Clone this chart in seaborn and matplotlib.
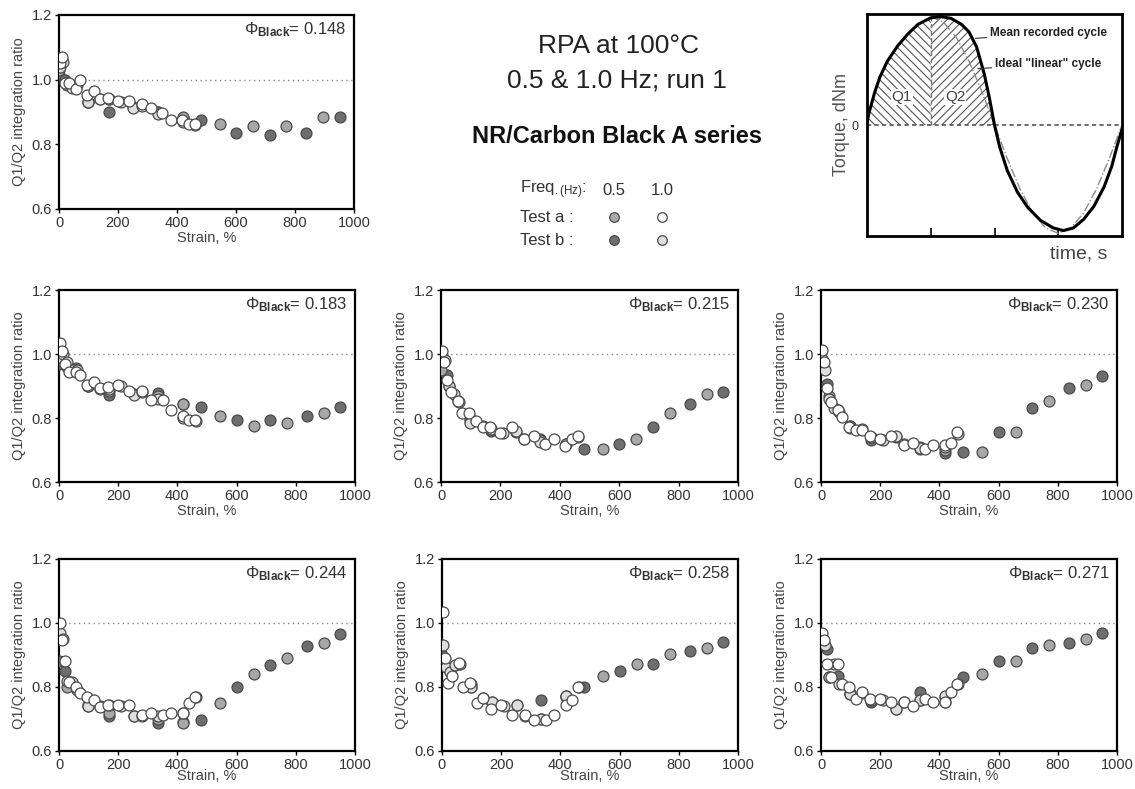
import numpy as np
import pandas as pd
import matplotlib
matplotlib.use("Agg")
import matplotlib.pyplot as plt
import seaborn as sns

# ---------------- data ----------------
# strain (%) grids of the four measurement series
strain_a10 = [2, 10, 20, 35, 56, 70, 95, 118, 140, 165, 200, 238, 280, 312, 350, 380, 418, 440, 460]
strain_b10 = [5, 14, 28, 45, 60, 98, 140, 168, 210, 252, 280, 335, 420, 462]
strain_a05 = [1, 28, 98, 168, 252, 335, 420, 545, 658, 770, 895]
strain_b05 = [1, 20, 56, 98, 168, 335, 420, 480, 601, 714, 838, 951]

phi_labels = ["0.148", "0.183", "0.215", "0.230", "0.244", "0.258", "0.271"]

# Phi = 0.148
r148_a10 = [1.05, 1.07, 0.99, 0.99, 0.97, 1.00, 0.953, 0.966, 0.94, 0.942, 0.933, 0.933, 0.924, 0.912, 0.896, 0.874, 0.874, 0.863, 0.863]
r148_b10 = [1.04, 1.055, 0.985, 0.975, 0.985, 0.93, 0.94, 0.94, 0.93, 0.912, 0.92, 0.895, 0.87, 0.86]
r148_a05 = [1.03, 0.99, 0.93, 0.94, 0.915, 0.90, 0.886, 0.864, 0.857, 0.857, 0.886]
r148_b05 = [1.015, 1.0, 0.98, 0.93, 0.90, 0.90, 0.88, 0.874, 0.835, 0.83, 0.835, 0.886]
# Phi = 0.183
r183_a10 = [1.035, 1.01, 0.97, 0.945, 0.945, 0.935, 0.904, 0.914, 0.893, 0.896, 0.904, 0.883, 0.883, 0.855, 0.855, 0.826, 0.805, 0.793, 0.793]
r183_b10 = [0.99, 1.0, 0.975, 0.95, 0.95, 0.90, 0.89, 0.89, 0.90, 0.873, 0.88, 0.86, 0.80, 0.79]
r183_a05 = [0.98, 0.96, 0.90, 0.885, 0.875, 0.87, 0.844, 0.805, 0.774, 0.784, 0.815]
r183_b05 = [0.97, 0.97, 0.955, 0.90, 0.873, 0.878, 0.844, 0.833, 0.795, 0.795, 0.805, 0.833]
# Phi = 0.215
r215_a10 = [1.01, 0.976, 0.92, 0.88, 0.854, 0.815, 0.815, 0.79, 0.773, 0.773, 0.754, 0.773, 0.733, 0.745, 0.72, 0.733, 0.713, 0.733, 0.745]
r215_b10 = [0.996, 0.98, 0.90, 0.875, 0.85, 0.783, 0.775, 0.765, 0.754, 0.76, 0.735, 0.725, 0.72, 0.74]
r215_a05 = [0.95, 0.90, 0.79, 0.765, 0.755, 0.73, 0.72, 0.702, 0.733, 0.815, 0.875]
r215_b05 = [0.97, 0.935, 0.854, 0.80, 0.76, 0.733, 0.72, 0.702, 0.72, 0.773, 0.843, 0.882]
# Phi = 0.230
r230_a10 = [1.012, 0.976, 0.893, 0.851, 0.825, 0.804, 0.773, 0.763, 0.763, 0.745, 0.734, 0.745, 0.716, 0.723, 0.703, 0.716, 0.716, 0.723, 0.755]
r230_b10 = [0.985, 0.95, 0.86, 0.83, 0.82, 0.77, 0.765, 0.74, 0.73, 0.745, 0.72, 0.705, 0.71, 0.75]
r230_a05 = [0.96, 0.87, 0.775, 0.74, 0.74, 0.71, 0.70, 0.693, 0.755, 0.854, 0.903]
r230_b05 = [0.976, 0.905, 0.825, 0.775, 0.732, 0.703, 0.692, 0.693, 0.755, 0.830, 0.893, 0.931]
# Phi = 0.244
r244_a10 = [1.0, 0.947, 0.88, 0.817, 0.80, 0.78, 0.77, 0.76, 0.738, 0.744, 0.744, 0.744, 0.712, 0.72, 0.712, 0.72, 0.72, 0.75, 0.77]
r244_b10 = [0.968, 0.95, 0.82, 0.817, 0.79, 0.74, 0.74, 0.745, 0.74, 0.71, 0.71, 0.71, 0.72, 0.77]
r244_a05 = [0.97, 0.80, 0.745, 0.72, 0.71, 0.70, 0.688, 0.75, 0.84, 0.89, 0.939]
r244_b05 = [0.88, 0.85, 0.796, 0.74, 0.71, 0.688, 0.69, 0.697, 0.80, 0.87, 0.929, 0.966]
# Phi = 0.258
r258_a10 = [1.033, 0.89, 0.812, 0.833, 0.874, 0.80, 0.812, 0.751, 0.765, 0.731, 0.744, 0.713, 0.713, 0.697, 0.697, 0.713, 0.744, 0.76, 0.80]
r258_b10 = [0.932, 0.864, 0.848, 0.87, 0.872, 0.80, 0.765, 0.754, 0.74, 0.744, 0.71, 0.70, 0.773, 0.80]
r258_a05 = [0.885, 0.85, 0.81, 0.754, 0.744, 0.70, 0.773, 0.833, 0.872, 0.904, 0.921]
r258_b05 = [0.90, 0.86, 0.872, 0.80, 0.749, 0.76, 0.77, 0.80, 0.851, 0.872, 0.911, 0.942]
# Phi = 0.271
r271_a10 = [0.969, 0.946, 0.873, 0.83, 0.873, 0.81, 0.80, 0.762, 0.783, 0.762, 0.762, 0.752, 0.752, 0.741, 0.762, 0.752, 0.752, 0.783, 0.81]
r271_b10 = [0.957, 0.93, 0.83, 0.873, 0.81, 0.778, 0.78, 0.76, 0.76, 0.731, 0.752, 0.76, 0.773, 0.81]
r271_a05 = [0.955, 0.83, 0.78, 0.76, 0.731, 0.76, 0.77, 0.841, 0.88, 0.93, 0.951]
r271_b05 = [0.94, 0.92, 0.833, 0.778, 0.752, 0.783, 0.752, 0.83, 0.88, 0.923, 0.938, 0.969]

x_ticks = [0, 200, 400, 600, 800, 1000]
y_ticks = [0.6, 0.8, 1.0, 1.2]
y_ticklabels = ["0.6", "0.8", "1.0", "1.2"]

# schematic torque cycle (normalised time, normalised torque)
t_mean = [0.0, 0.01, 0.03, 0.05, 0.08, 0.12, 0.16, 0.20, 0.25, 0.29, 0.33, 0.37, 0.40, 0.43, 0.46, 0.48,
          0.50, 0.52, 0.55, 0.59, 0.63, 0.68, 0.73, 0.77, 0.81, 0.85, 0.89, 0.93, 0.96, 0.98, 1.0]
q_mean = [0.03, 0.13, 0.30, 0.44, 0.59, 0.73, 0.84, 0.93, 0.99, 1.0, 0.985, 0.93, 0.86, 0.72, 0.47, 0.25,
          0.0, -0.2, -0.42, -0.62, -0.76, -0.88, -0.95, -0.975, -0.95, -0.87, -0.75, -0.57, -0.38, -0.2, -0.04]
t_ideal = [0.25, 0.30, 0.35, 0.40, 0.45, 0.50, 0.55, 0.60, 0.65, 0.70, 0.75, 0.80, 0.85, 0.90, 0.95, 1.0]
q_ideal = [1.0, 0.95, 0.81, 0.59, 0.31, 0.0, -0.31, -0.59, -0.81, -0.95, -1.0, -0.95, -0.81, -0.59, -0.31, 0.0]
t_split = [0.25, 0.5]

# ---------------- style ----------------
sns.set_theme(style="white")
plt.rcParams["font.family"] = ["Liberation Sans", "DejaVu Sans"]
plt.rcParams["mathtext.fontset"] = "custom"
plt.rcParams["mathtext.rm"] = "Liberation Sans"
plt.rcParams["mathtext.it"] = "Liberation Sans"
plt.rcParams["mathtext.bf"] = "Liberation Sans:bold"
plt.rcParams["hatch.linewidth"] = 0.8
plt.rcParams["hatch.color"] = "#555555"

W, H = 1135, 789
fig = plt.figure(figsize=(W / 100, H / 100), dpi=100)
fig.patch.set_facecolor("white")


def rect(l, t, r, b):
    return [l / W, 1 - b / H, (r - l) / W, (b - t) / H]


# overlay axes in pixel coordinates for free text / legend
ov = fig.add_axes([0, 0, 1, 1])
ov.set_xlim(0, W)
ov.set_ylim(H, 0)
ov.axis("off")

EDGE = "#4a4a4a"
series_style = {
    "b05": dict(color="#6e6e6e"),
    "a05": dict(color="#a8a8a8"),
    "b10": dict(color="#dedede"),
    "a10": dict(color="white"),
}

panels = [
    (rect(59, 15, 354, 209), r148_a10, r148_b10, r148_a05, r148_b05, 1),
    (rect(59, 290, 355, 482), r183_a10, r183_b10, r183_a05, r183_b05, 1),
    (rect(441, 290, 738, 482), r215_a10, r215_b10, r215_a05, r215_b05, 1),
    (rect(821, 290, 1117, 482), r230_a10, r230_b10, r230_a05, r230_b05, 1),
    (rect(59, 559, 355, 751), r244_a10, r244_b10, r244_a05, r244_b05, -2),
    (rect(442, 559, 738, 751), r258_a10, r258_b10, r258_a05, r258_b05, -2),
    (rect(821, 559, 1117, 751), r271_a10, r271_b10, r271_a05, r271_b05, -2),
]

for (pos, ya10, yb10, ya05, yb05, xpad), phi in zip(panels, phi_labels):
    ax = fig.add_axes(pos)
    ax.axhline(1.0, color="#8a8a8a", lw=1.0, ls=(0, (1, 2.5)), zorder=1)
    for key, xs, ys in [("b05", strain_b05, yb05), ("a05", strain_a05, ya05),
                        ("b10", strain_b10, yb10), ("a10", strain_a10, ya10)]:
        df = pd.DataFrame({"strain": xs, "ratio": ys})
        sns.scatterplot(data=df, x="strain", y="ratio", ax=ax, s=62,
                        color=series_style[key]["color"], edgecolor=EDGE,
                        linewidth=0.9, legend=False, zorder=3)
    ax.set_xlim(0, 1000)
    ax.set_ylim(0.6, 1.2)
    ax.set_xticks(x_ticks)
    ax.set_yticks(y_ticks)
    ax.set_yticklabels(y_ticklabels)
    ax.tick_params(axis="both", length=3, width=1, color="black", labelsize=10.5,
                   labelcolor="#333333", pad=2, direction="out", bottom=True, left=True)
    for sp in ax.spines.values():
        sp.set_color("black")
        sp.set_linewidth(1.6)
    ax.set_xlabel("Strain, %", fontsize=10.5, color="#444444", labelpad=xpad)
    ax.set_ylabel("Q1/Q2 integration ratio", fontsize=10.5, color="#444444", labelpad=4)
    ax.text(0.975, 0.925, r"$\Phi_{\mathbf{Black}}$= " + phi, transform=ax.transAxes,
            ha="right", va="center", fontsize=12, color="#333333")

# ---------------- titles and legend ----------------
ov.text(618, 46, "RPA at 100°C", ha="center", va="center", fontsize=19, color="#222222")
ov.text(617, 80, "0.5 & 1.0 Hz; run 1", ha="center", va="center", fontsize=19, color="#222222")
ov.text(617, 136, "NR/Carbon Black A series", ha="center", va="center", fontsize=17,
        fontweight="bold", color="#111111")

leg_font = dict(fontsize=12, color="#333333", va="center")
ov.text(520, 190, r"Freq$_{\mathregular{.(Hz)}}$:", ha="left", **leg_font)
ov.text(614, 190, "0.5", ha="center", **leg_font)
ov.text(662, 190, "1.0", ha="center", **leg_font)
ov.text(520, 217, "Test a :", ha="left", **leg_font)
ov.text(520, 240, "Test b :", ha="left", **leg_font)
leg_pos = {"a05": (614, 217), "a10": (662, 217), "b05": (614, 240), "b10": (662, 240)}
for key, (lx, ly) in leg_pos.items():
    ov.scatter([lx], [ly], s=48, color=series_style[key]["color"], edgecolor=EDGE, linewidth=0.9)

# ---------------- schematic ----------------
axs = fig.add_axes(rect(867, 14, 1122, 236))
axs.set_xlim(0, 1)
axs.set_ylim(-1.025, 1.025)

t_arr = np.array(t_mean)
q_arr = np.array(q_mean)
m1 = t_arr <= t_split[0]
m2 = (t_arr >= t_split[0]) & (t_arr <= t_split[1])
axs.fill_between(t_arr[m1], 0, q_arr[m1], facecolor="none", edgecolor="#555555",
                 hatch="\\\\\\\\", linewidth=0)
axs.fill_between(t_arr[m2], 0, q_arr[m2], facecolor="none", edgecolor="#555555",
                 hatch="////", linewidth=0)
q_at_split = q_arr[t_arr == t_split[0]][0]
axs.vlines(t_split[0], 0, q_at_split, colors="#777777", linestyles=(0, (3, 2)), lw=1)
axs.axhline(0, color="#555555", lw=1.2, ls=(0, (2.5, 2)))

sns.lineplot(x=t_ideal, y=q_ideal, ax=axs, color="#8c8c8c", lw=1.0, linestyle="-.",
             sort=False, estimator=None)
sns.lineplot(x=t_mean, y=q_mean, ax=axs, color="black", lw=2.2, sort=False, estimator=None)

axs.set_xticks([0.25, 0.5, 0.75])
axs.set_xticklabels([])
axs.set_yticks([0])
axs.set_yticklabels(["0"])
axs.tick_params(axis="x", direction="in", length=6, width=1.2, color="black", bottom=True)
axs.tick_params(axis="y", length=0, labelsize=9, labelcolor="#333333", pad=6)
for sp in axs.spines.values():
    sp.set_color("black")
    sp.set_linewidth(2)
axs.set_ylabel("Torque, dNm", fontsize=13, color="#555555", labelpad=1)
axs.set_xlabel("")
axs.text(0.83, -0.08, "time, s", transform=axs.transAxes, ha="center", va="center",
         fontsize=14, color="#444444")
axs.text(0.137, 0.26, "Q1", ha="center", va="center", fontsize=11, color="#444444",
         bbox=dict(facecolor="white", edgecolor="none", pad=0.5))
axs.text(0.345, 0.26, "Q2", ha="center", va="center", fontsize=11, color="#444444",
         bbox=dict(facecolor="white", edgecolor="none", pad=0.5))
axs.annotate("Mean recorded cycle", xy=(0.425, 0.80), xytext=(990, 33), textcoords=ov.transData,
             fontsize=8.5, fontweight="bold", color="#222222", ha="left", va="center",
             arrowprops=dict(arrowstyle="-", color="#333333", lw=0.8, shrinkA=0, shrinkB=0))
axs.annotate('Ideal "linear" cycle', xy=(0.435, 0.52), xytext=(995, 64), textcoords=ov.transData,
             fontsize=8.5, fontweight="bold", color="#222222", ha="left", va="center",
             arrowprops=dict(arrowstyle="-", color="#333333", lw=0.8, shrinkA=0, shrinkB=0))

fig.savefig("out.png", dpi=100, facecolor="white")
